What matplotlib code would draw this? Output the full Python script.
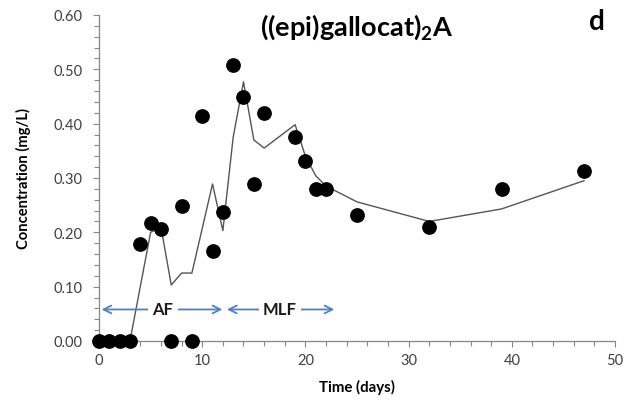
import matplotlib
matplotlib.use("Agg")
import matplotlib.pyplot as plt
from matplotlib.ticker import MultipleLocator, FormatStrFormatter

plt.rcParams['font.family'] = ['Lato', 'DejaVu Sans']
plt.rcParams['mathtext.fontset'] = 'custom'
plt.rcParams['mathtext.rm'] = 'Lato'
plt.rcParams['mathtext.bf'] = 'Lato:bold'

# Measured concentrations (mg/L) by day
obs_days = [0, 1, 2, 3, 4, 5, 6, 7, 8, 9, 10, 11, 12, 13, 14, 15, 16,
            19, 20, 21, 22, 25, 32, 39, 47]
obs_conc = [0.0, 0.0, 0.0, 0.0, 0.178, 0.217, 0.207, 0.0, 0.249, 0.0,
            0.414, 0.165, 0.237, 0.507, 0.449, 0.289, 0.420,
            0.376, 0.332, 0.280, 0.280, 0.232, 0.209, 0.280, 0.312]

# Fitted curve
fit_days = [0, 1, 2, 3, 5, 6, 7, 8, 9, 11, 12, 13, 14, 15, 16,
            19, 20, 21, 22, 25, 32, 39, 47]
fit_conc = [0.0, 0.0, 0.0, 0.0, 0.200, 0.210, 0.103, 0.125, 0.125,
            0.289, 0.203, 0.375, 0.477, 0.370, 0.355,
            0.398, 0.340, 0.304, 0.285, 0.256, 0.220, 0.243, 0.295]

# Fermentation phases: (label, start day, end day, label position)
phases = [("AF", 0.25, 11.95, 6.2), ("MLF", 12.4, 22.8, 17.5)]
phase_level = 0.058

fig = plt.figure(figsize=(6.4, 4.02), dpi=100)
ax = fig.add_axes([0.1547, 0.1493, 0.8063, 0.811])

ax.plot(fit_days, fit_conc, color='#555555', lw=1.0, zorder=2)
ax.plot(obs_days, obs_conc, 'o', color='black', ms=9.6, mec='black', zorder=3,
        clip_on=False)

blue = '#4F81BD'
for label, x0, x1, xt in phases:
    ax.annotate('', xy=(x0, phase_level), xytext=(x1, phase_level),
                arrowprops=dict(arrowstyle='<->', color=blue, lw=1.3,
                                mutation_scale=14, shrinkA=0, shrinkB=0))
    ax.text(xt, phase_level, label, ha='center', va='center', fontsize=12,
            fontweight='bold', color='#1a1a1a',
            bbox=dict(boxstyle='square,pad=0.25', fc='white', ec='none'))

ax.set_xlim(0, 50)
ax.set_ylim(0, 0.6)
ax.xaxis.set_major_locator(MultipleLocator(10))
ax.xaxis.set_minor_locator(MultipleLocator(2))
ax.yaxis.set_major_locator(MultipleLocator(0.1))
ax.yaxis.set_minor_locator(MultipleLocator(0.02))
ax.yaxis.set_major_formatter(FormatStrFormatter('%.2f'))

for side in ('top', 'right'):
    ax.spines[side].set_visible(False)
for side in ('left', 'bottom'):
    ax.spines[side].set_color('#868686')
    ax.spines[side].set_linewidth(0.9)

ax.tick_params(which='both', direction='out', color='#868686', width=0.8)
ax.tick_params(which='major', length=4)
ax.tick_params(which='minor', length=3.5)
ax.tick_params(axis='both', labelsize=10.5, labelcolor='#404040')
ax.tick_params(axis='y', pad=8)
ax.tick_params(axis='x', pad=5)

ax.set_xlabel('Time (days)', fontsize=10.8, fontweight='bold', labelpad=8)
ax.set_ylabel('Concentration (mg/L)', fontsize=10.6, fontweight='bold', labelpad=16)

fig.text(0.558, 0.932, r'((epi)gallocat)$_\mathbf{2}$A', ha='center', va='center',
         fontsize=19.5, fontweight='bold')
fig.text(0.933, 0.945, 'd', ha='center', va='center', fontsize=20,
         fontweight='bold')

fig.savefig('out.png', dpi=100)
